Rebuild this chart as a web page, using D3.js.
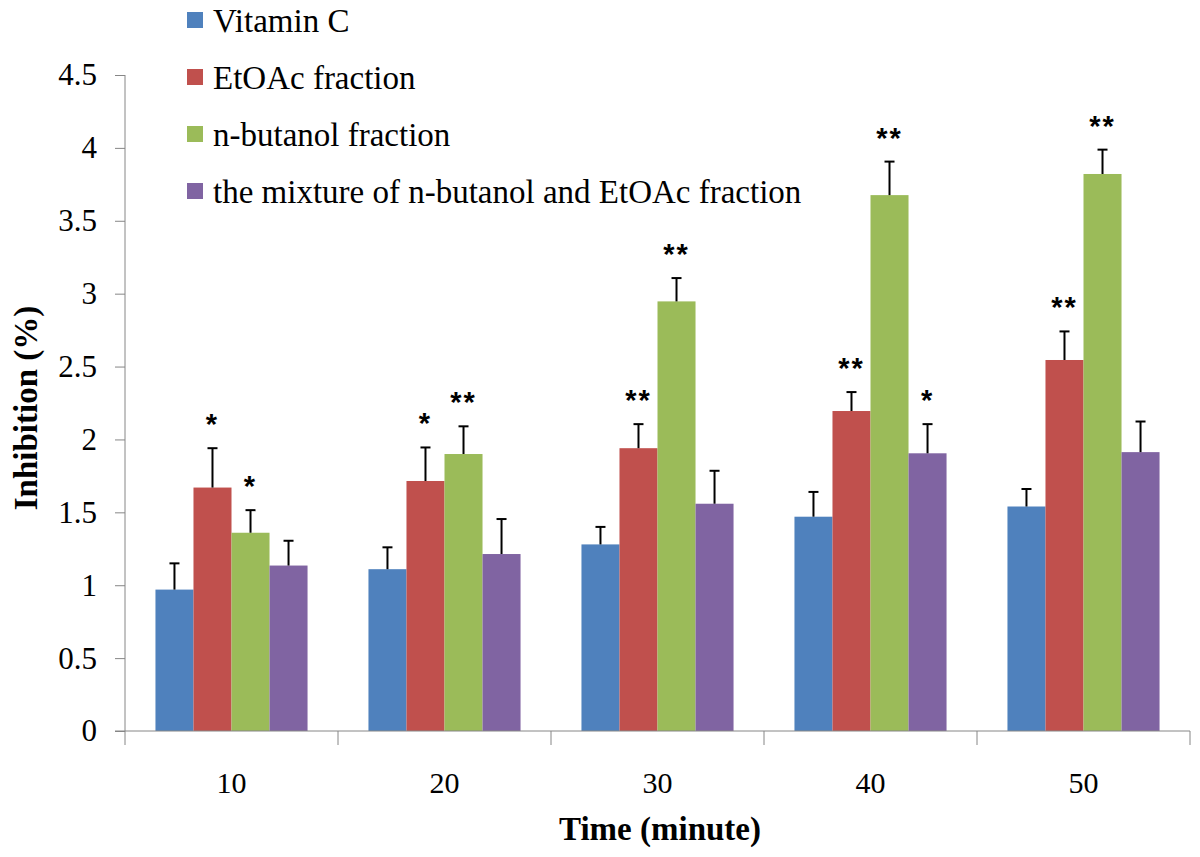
<!DOCTYPE html>
<html>

<head>
    <meta charset="utf-8">
    <style>
        body {
            margin: 0;
            background: #fff;
        }

        svg {
            font-family: "Liberation Serif", "Times New Roman", Times, serif;
        }

        .axis path,
        .axis line {
            stroke: #868686;
        }

        .star {
            font-family: "Liberation Sans", Arial, sans-serif;
            font-weight: bold;
        }
    </style>
</head>

<body>
    <svg width="1200" height="857"></svg>
</body>

<script src="https://d3js.org/d3.v7.min.js"></script>

<script>

    // values
    let times = ["10", "20", "30", "40", "50"]
    let seriesNames = ["Vitamin C", "EtOAc fraction", "n-butanol fraction", "the mixture of n-butanol and EtOAc fraction"]
    let colors = ["#4F81BD", "#C0504D", "#9BBB59", "#8064A2"]

    let vitaminC = [0.97, 1.11, 1.28, 1.47, 1.54]
    let etoac = [1.67, 1.715, 1.94, 2.195, 2.545]
    let butanol = [1.36, 1.90, 2.947, 3.676, 3.821]
    let mixture = [1.135, 1.214, 1.559, 1.905, 1.913]

    let errVitaminC = [0.18, 0.15, 0.12, 0.17, 0.12]
    let errEtoac = [0.27, 0.23, 0.165, 0.13, 0.196]
    let errButanol = [0.155, 0.19, 0.16, 0.23, 0.167]
    let errMixture = [0.17, 0.24, 0.226, 0.2, 0.21]

    // significance marks
    let starsVitaminC = ["", "", "", "", ""]
    let starsEtoac = ["*", "*", "**", "**", "**"]
    let starsButanol = ["*", "**", "**", "**", "**"]
    let starsMixture = ["", "", "", "*", ""]

    let yTicks = [0, 0.5, 1, 1.5, 2, 2.5, 3, 3.5, 4, 4.5]

    let allValues = [vitaminC, etoac, butanol, mixture]
    let allErrors = [errVitaminC, errEtoac, errButanol, errMixture]
    let allStars = [starsVitaminC, starsEtoac, starsButanol, starsMixture]

    let rows = []
    times.forEach((t, i) => {
        seriesNames.forEach((s, j) => {
            rows.push({ time: t, series: s, idx: j, value: allValues[j][i], err: allErrors[j][i], stars: allStars[j][i] })
        })
    })

    let plotLeft = 125, plotRight = 1190, plotTop = 75, plotBottom = 731

    let svg = d3.select("svg")

    let y = d3.scaleLinear()
        .domain([0, 4.5])
        .range([plotBottom, plotTop])

    let x0 = d3.scaleBand()
        .domain(times)
        .range([plotLeft, plotRight])
        .padding(0)

    let bw = x0.bandwidth()
    let x1 = d3.scaleBand()
        .domain(seriesNames)
        .range([bw * 0.143, bw * 0.857])
        .padding(0)

    // y axis
    svg.append("g")
        .attr("class", "axis")
        .attr("transform", "translate(" + plotLeft + ",0)")
        .call(d3.axisLeft(y).tickValues(yTicks).tickSize(10).tickPadding(18).tickFormat(d => String(d)))
        .call(g => g.select(".domain").attr("d", "M0," + plotTop + "V" + plotBottom))
        .selectAll("text")
        .style("font-family", "'Liberation Serif', 'Times New Roman', serif")
        .style("font-size", "31px")
        .attr("fill", "#000")

    // bars
    svg.append("g")
        .selectAll("rect")
        .data(rows)
        .join("rect")
        .attr("x", d => x0(d.time) + x1(d.series))
        .attr("y", d => y(d.value))
        .attr("width", x1.bandwidth())
        .attr("height", d => y(0) - y(d.value))
        .style("fill", d => colors[d.idx])

    // x axis line and category boundary ticks
    let xAxis = svg.append("g").attr("class", "axis")
    xAxis.append("line")
        .attr("x1", plotLeft - 10).attr("x2", plotRight)
        .attr("y1", y(0)).attr("y2", y(0))
        .style("stroke", "#868686")
    xAxis.selectAll(".bound")
        .data(times.map(t => x0(t)).concat([plotRight]))
        .join("line")
        .attr("x1", d => d).attr("x2", d => d)
        .attr("y1", y(0)).attr("y2", y(0) + 14)
        .style("stroke", "#868686")

    svg.append("g")
        .selectAll("text")
        .data(times)
        .join("text")
        .attr("x", d => x0(d) + bw / 2)
        .attr("y", 793)
        .attr("text-anchor", "middle")
        .style("font-size", "30px")
        .text(d => d)

    // error bars (upper only)
    let errs = svg.append("g")
        .style("stroke", "#000")
        .style("stroke-width", 2)
    errs.selectAll(".stem")
        .data(rows)
        .join("line")
        .attr("x1", d => x0(d.time) + x1(d.series) + x1.bandwidth() / 2)
        .attr("x2", d => x0(d.time) + x1(d.series) + x1.bandwidth() / 2)
        .attr("y1", d => y(d.value))
        .attr("y2", d => y(d.value + d.err))
    errs.selectAll(".cap")
        .data(rows)
        .join("line")
        .attr("x1", d => x0(d.time) + x1(d.series) + x1.bandwidth() / 2 - 5)
        .attr("x2", d => x0(d.time) + x1(d.series) + x1.bandwidth() / 2 + 5)
        .attr("y1", d => y(d.value + d.err))
        .attr("y2", d => y(d.value + d.err))

    // stars
    svg.append("g")
        .selectAll("text")
        .data(rows.filter(d => d.stars != ""))
        .join("text")
        .attr("class", "star")
        .attr("x", d => x0(d.time) + x1(d.series) + x1.bandwidth() / 2)
        .attr("y", d => y(d.value + d.err) - 30 + 16)
        .attr("text-anchor", "middle")
        .style("font-size", "29px")
        .style("letter-spacing", "2px")
        .text(d => d.stars)

    // axis titles
    svg.append("text")
        .attr("transform", "translate(37,408) rotate(-90)")
        .attr("text-anchor", "middle")
        .style("font-size", "33px")
        .style("font-weight", "bold")
        .text("Inhibition (%)")

    svg.append("text")
        .attr("x", 660)
        .attr("y", 840)
        .attr("text-anchor", "middle")
        .style("font-size", "33px")
        .style("font-weight", "bold")
        .text("Time (minute)")

    // legend
    let legend = svg.append("g")
        .selectAll("g")
        .data(seriesNames)
        .join("g")
        .attr("transform", (d, i) => "translate(187," + (20 + i * 57) + ")")

    legend.append("rect")
        .attr("x", 0).attr("y", -8)
        .attr("width", 16).attr("height", 16)
        .style("fill", (d, i) => colors[i])

    legend.append("text")
        .attr("x", 26)
        .attr("y", 12)
        .style("font-size", "33px")
        .text(d => d)

</script>

</html>
